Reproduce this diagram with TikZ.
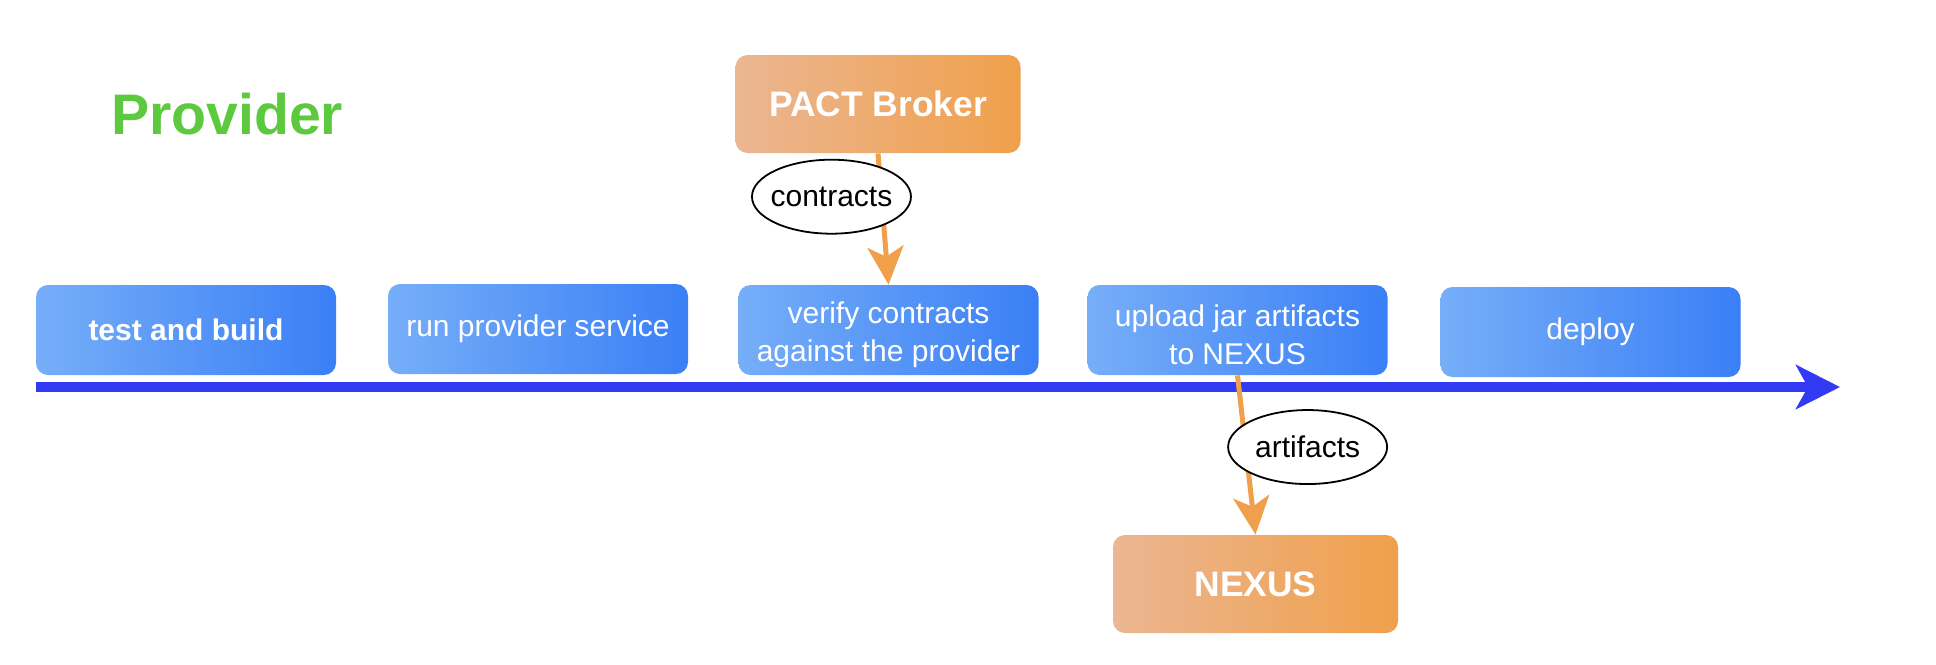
\documentclass[tikz,border=0pt]{standalone}
\usepackage{fontspec}
\setmainfont{Liberation Sans}
\usetikzlibrary{arrows.meta,shapes.geometric}
\definecolor{stageL}{HTML}{76AEF8}
\definecolor{stageR}{HTML}{3A7FF6}
\definecolor{storeL}{HTML}{EBB692}
\definecolor{storeR}{HTML}{F0A04B}
\definecolor{flowcol}{HTML}{F0A04B}
\definecolor{timecol}{HTML}{333AF3}
\definecolor{titlecol}{HTML}{5DC93E}
\newcommand{\toppad}{\rule{0pt}{15.8pt}}
\tikzset{
  stage/.style={rectangle, rounded corners=6pt, left color=stageL, right color=stageR,
    text=white, minimum width=150pt, minimum height=45pt, align=center,
    font=\fontsize{15}{17.5}\selectfont},
  twoline/.style={font=\fontsize{15}{18.75}\selectfont},
  store/.style={rectangle, rounded corners=6pt, left color=storeL, right color=storeR,
    text=white, minimum width=142.5pt, minimum height=49pt,
    font=\bfseries\fontsize{17.7}{20}\selectfont},
  tag/.style={ellipse, draw=black, line width=0.9pt, fill=white, inner xsep=-2.6pt, inner ysep=0pt,
    minimum width=79.5pt, minimum height=37pt, font=\fontsize{15}{18}\selectfont},
  flow/.style={draw=flowcol, line width=2.5pt, -{Stealth[length=19pt,width=18pt,inset=5pt]}},
  timeline/.style={draw=timecol, line width=5pt, -{Stealth[length=22pt,width=22pt,inset=6pt]}}
}
\begin{document}
\begin{tikzpicture}[x=0.5pt, y=-0.5pt]
  \useasboundingbox (0,0) rectangle (1936,664);
  \node[anchor=base west, text=titlecol, font=\bfseries\fontsize{28.6}{34}\selectfont] (title) at (104,134) {Provider};
  % pipeline
  \coordinate (tstart) at (36,387);
  \coordinate (tend) at (1840,387);
  \draw[timeline] (tstart) -- (tend);
  \node[stage, font=\bfseries\fontsize{15}{17.5}\selectfont] (build) at (186,330) {test and build};
  \node[stage] (run) at (538,329) {run provider service};
  \node[stage, twoline] (verify) at (888.5,330) {\toppad verify contracts\\against the provider};
  \node[stage, twoline] (upload) at (1237.5,330) {\toppad upload jar artifacts\\to NEXUS};
  \node[stage] (deploy) at (1590.5,332) {deploy};
  % external systems
  \node[store] (broker) at (878,104) {PACT Broker};
  \node[store] (nexus) at (1255.5,584) {NEXUS};
  \draw[flow] (broker.south) -- (verify.north)
    node[tag, pos=0.33, xshift=-25pt] (contracts) {contracts};
  \draw[flow] (upload.south) -- (nexus.north)
    node[tag, pos=0.45, xshift=31pt] (artifacts) {artifacts};
\end{tikzpicture}
\end{document}
